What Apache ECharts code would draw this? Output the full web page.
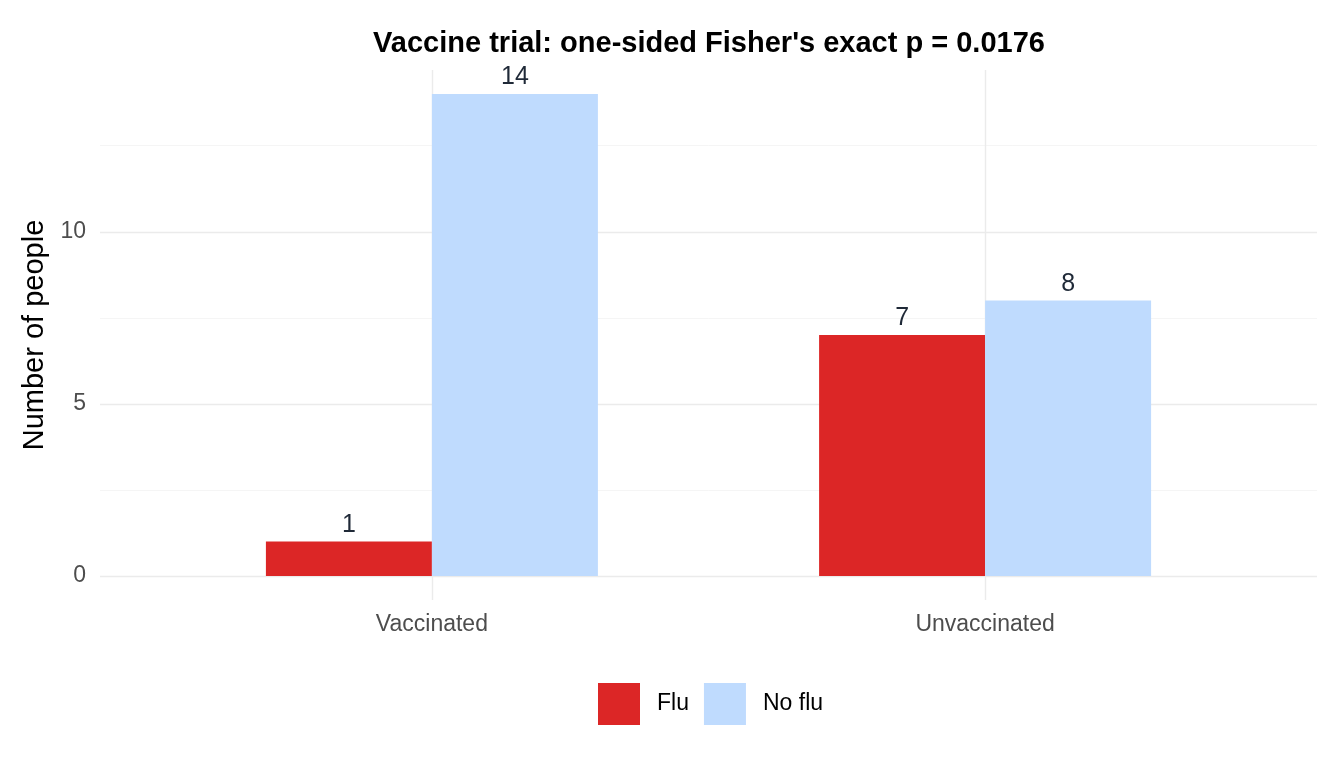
<!DOCTYPE html>
<html>
<head>
<meta charset="utf-8">
<script src="https://cdn.jsdelivr.net/npm/echarts@6/dist/echarts.min.js"></script>
<style>
  html, body { margin: 0; padding: 0; background: #fff; }
  #chart { width: 1344px; height: 768px; }
</style>
</head>
<body>
<div id="chart"></div>
<script>
// data
const groups = ["Vaccinated", "Unvaccinated"];
const fluCounts = [1, 7];
const noFluCounts = [14, 8];
const yTicks = [0, 5, 10];
const yMinor = [2.5, 7.5, 12.5];

const FONT = "Liberation Sans, Arial, sans-serif";
const RED = "#dc2626";
const BLUE = "#bfdbfe";

// ggplot-like padding around the data
const xMin = 0.4, xMax = groups.length + 0.6;
const yMin = -0.7, yMax = 14.7;

const chart = echarts.init(document.getElementById("chart"));

function toPairs(vals) {
    return vals.map((v, i) => [i + 1, v]);
}

const gridLines = [];
yTicks.forEach((v) => gridLines.push({ yAxis: v, lineStyle: { color: "#ebebeb", width: 1.4, type: "solid" } }));
yMinor.forEach((v) => gridLines.push({ yAxis: v, lineStyle: { color: "#f2f2f2", width: 0.8, type: "solid" } }));
groups.forEach((g, i) => gridLines.push({ xAxis: i + 1, lineStyle: { color: "#ebebeb", width: 1.4, type: "solid" } }));

const barLabel = {
    show: true,
    position: "top",
    distance: 4,
    fontFamily: FONT,
    fontSize: 25,
    color: "#1f2937"
};

const option = {
    animation: false,
    backgroundColor: "#fff",
    title: {
        text: "Vaccine trial: one-sided Fisher's exact p = 0.0176",
        left: 704,
        top: 24,
        textAlign: "center",
        textStyle: { fontFamily: FONT, fontSize: 29, fontWeight: "bold", color: "#000" }
    },
    legend: {
        left: 598,
        top: 683,
        padding: 0,
        itemWidth: 42,
        itemHeight: 42,
        itemGap: 15,
        icon: "rect",
        textStyle: { fontFamily: FONT, fontSize: 23, color: "#000", padding: [0, 0, 0, 12] },
        data: ["Flu", "No flu"]
    },
    grid: { left: 100, right: 27, top: 70, bottom: 168 },
    xAxis: {
        type: "value",
        min: xMin,
        max: xMax,
        axisLine: { show: false },
        axisTick: { show: false },
        splitLine: { show: false },
        axisLabel: {
            customValues: groups.map((g, i) => i + 1),
            formatter: (v) => groups[Math.round(v) - 1] || "",
            margin: 13,
            fontFamily: FONT,
            fontSize: 23,
            color: "#4d4d4d"
        }
    },
    yAxis: {
        type: "value",
        min: yMin,
        max: yMax,
        name: "Number of people",
        nameLocation: "middle",
        nameRotate: 90,
        nameGap: 46,
        nameTextStyle: { fontFamily: FONT, fontSize: 29, color: "#000" },
        axisLine: { show: false },
        axisTick: { show: false },
        splitLine: { show: false },
        axisLabel: {
            customValues: yTicks,
            margin: 14,
            fontFamily: FONT,
            fontSize: 23,
            color: "#4d4d4d"
        }
    },
    series: [
        {
            // carrier for the panel grid lines only
            name: "grid",
            type: "line",
            data: [],
            silent: true,
            z: 1,
            markLine: {
                silent: true,
                symbol: "none",
                label: { show: false },
                animation: false,
                z: 1,
                data: gridLines
            }
        },
        {
            name: "Flu",
            type: "bar",
            barWidth: 166,
            barGap: "0%",
            itemStyle: { color: RED },
            label: barLabel,
            data: toPairs(fluCounts),
            z: 5
        },
        {
            name: "No flu",
            type: "bar",
            barWidth: 166,
            barGap: "0%",
            itemStyle: { color: BLUE },
            label: barLabel,
            data: toPairs(noFluCounts),
            z: 5
        }
    ]
};

chart.setOption(option);
</script>
</body>
</html>
